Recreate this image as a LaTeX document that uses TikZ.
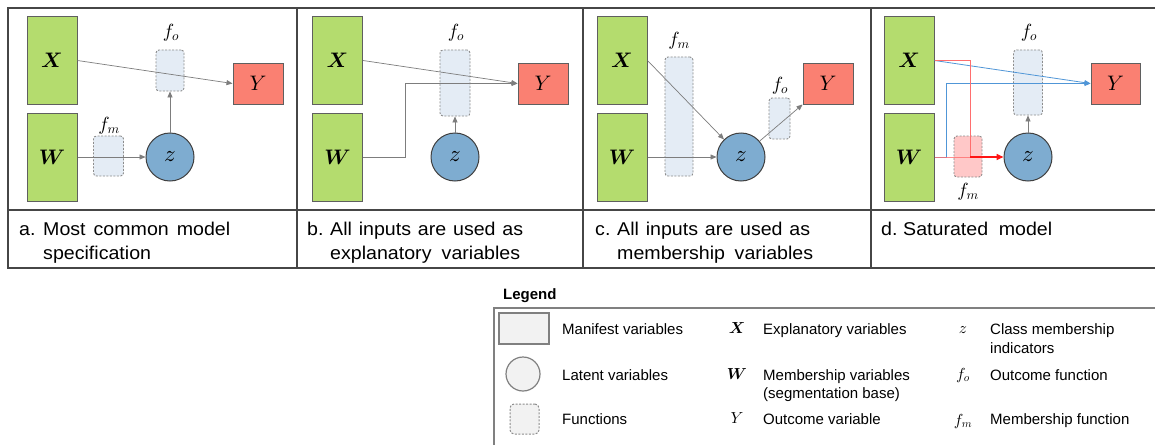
\documentclass[tikz,border=0pt]{standalone}
\usepackage{bm}
\usepackage{fontspec}
\setmainfont{Liberation Sans}
\newfontfamily\captfont[FakeStretch=1.06]{Liberation Sans}
\DeclareFontShape{OML}{cmm}{m}{it}{<->cmmi10}{}
\DeclareFontShape{OML}{cmm}{b}{it}{<->cmmib10}{}
\DeclareFontShape{OT1}{cmr}{m}{n}{<->cmr10}{}
\DeclareFontShape{OT1}{cmr}{bx}{n}{<->cmbx10}{}
\DeclareFontShape{OMS}{cmsy}{m}{n}{<->cmsy10}{}
\DeclareFontShape{OMS}{cmsy}{b}{n}{<->cmbsy10}{}
\DeclareFontShape{OMX}{cmex}{m}{n}{<->cmex10}{}
\usetikzlibrary{arrows.meta}
\definecolor{grn}{RGB}{180,220,110}
\definecolor{salmon}{RGB}{250,128,114}
\definecolor{zblue}{RGB}{126,172,208}
\definecolor{funcfill}{RGB}{228,236,245}
\definecolor{pinkfill}{RGB}{255,200,200}
\definecolor{bordergray}{RGB}{95,95,95}
\definecolor{circborder}{RGB}{64,64,64}
\definecolor{dashgray}{RGB}{140,140,140}
\definecolor{linegray}{RGB}{125,125,125}
\definecolor{tblgray}{RGB}{70,70,70}
\definecolor{leggray}{RGB}{128,128,128}
\definecolor{legfill}{RGB}{242,242,242}
\definecolor{redln}{RGB}{255,110,110}
\definecolor{redthk}{RGB}{255,20,20}
\definecolor{blueln}{RGB}{80,150,215}
\begin{document}
\begin{tikzpicture}[x=1pt,y=-1pt,
  man/.style={draw=bordergray, line width=1pt, fill=grn, minimum width=50pt, inner sep=0pt, font=\fontsize{21}{23}\selectfont},
  outv/.style={draw=bordergray, line width=1pt, fill=salmon, minimum width=50pt, minimum height=41pt, inner sep=0pt, font=\fontsize{21}{23}\selectfont},
  lat/.style={circle, draw=circborder, line width=1pt, fill=zblue, minimum size=48pt, inner sep=0pt, font=\fontsize{23}{24}\selectfont},
  func/.style={draw=dashgray, dash pattern=on 2pt off 1.5pt, rounded corners=3pt, fill=funcfill, line width=0.9pt, inner sep=0pt},
  arr/.style={draw=linegray, line width=0.7pt, -{Triangle[length=6pt,width=5pt]}},
  flab/.style={inner sep=0pt, font=\fontsize{19}{20}\selectfont},
  capt/.style={anchor=base west, inner sep=0pt, font=\captfont\fontsize{18.5}{22}\selectfont},
  leg/.style={anchor=base west, inner sep=0pt, font=\fontsize{15}{18}\selectfont},
  lmath/.style={inner sep=0pt, font=\fontsize{16}{18}\selectfont},
  tbl/.style={draw=tblgray, line width=1.2pt}
]
\useasboundingbox (0,0) rectangle (1155,444);
\fill[white] (0,0) rectangle (1155,444);

% table
\draw[tbl] (1157,8) -- (8,8) -- (8,268) -- (1157,268);
\draw[tbl] (8,210) -- (1157,210);
\draw[tbl] (297,8) -- (297,268);
\draw[tbl] (583,8) -- (583,268);
\draw[tbl] (871,8) -- (871,268);

% ---------- panel a ----------
\node[man, minimum height=87pt] (Xa) at (52,60.5) {$\bm{X}$};
\node[man, minimum height=88pt] (Wa) at (52,157) {$\bm{W}$};
\node[outv] (Ya) at (258,83.5) {$Y$};
\node[lat] (za) at (170,157) {$z$};
\node[func, minimum width=28pt, minimum height=41pt] (foa) at (170,70.5) {};
\node[func, minimum width=30pt, minimum height=40pt] (fma) at (108.5,156) {};
\node[flab] (foal) at (171,33) {$f_o$};
\node[flab] (fmal) at (109,126) {$f_m$};
\draw[arr] (Xa.east) -- (Ya.west);
\draw[arr] (Wa.east) -- (za.west);
\draw[arr] (za.north) -- (foa.south);

% ---------- panel b ----------
\node[man, minimum height=87pt] (Xb) at (337.5,60.5) {$\bm{X}$};
\node[man, minimum height=88pt] (Wb) at (337.5,157) {$\bm{W}$};
\node[outv] (Yb) at (543,83.5) {$Y$};
\node[lat] (zb) at (455,157) {$z$};
\node[func, minimum width=30pt, minimum height=66pt] (fob) at (455,83) {};
\node[flab] (fobl) at (456,33) {$f_o$};
\coordinate (bturn) at (405,157);
\draw[arr] (Xb.east) -- (Yb.west);
\draw[arr] (Wb.east) -- (bturn) |- (Yb.west);
\draw[arr] (zb.north) -- (fob.south);

% ---------- panel c ----------
\node[man, minimum height=87pt] (Xc) at (622,60.5) {$\bm{X}$};
\node[man, minimum height=88pt] (Wc) at (622,157) {$\bm{W}$};
\node[outv] (Yc) at (828,83.5) {$Y$};
\node[func, minimum width=28pt, minimum height=119pt] (fmc) at (679,116.5) {};
\node[func, minimum width=21pt, minimum height=41pt] (foc) at (779.5,118.5) {};
\node[lat] (zc) at (741,157) {$z$};
\node[flab] (fmcl) at (679,41) {$f_m$};
\node[flab] (focl) at (780,86) {$f_o$};
\draw[arr] (Xc.east) -- (zc);
\draw[arr] (Wc.east) -- (zc.west);
\draw[arr] (zc) -- (Yc.south west);

% ---------- panel d ----------
\node[man, minimum height=87pt] (Xd) at (909,60.5) {$\bm{X}$};
\node[man, minimum height=88pt] (Wd) at (909,157) {$\bm{W}$};
\node[outv, minimum width=49pt] (Yd) at (1115.5,83.5) {$Y$};
\node[func, minimum width=29pt, minimum height=65pt] (fod) at (1028,82.5) {};
\node[func, fill=pinkfill, minimum width=28pt, minimum height=41pt] (fmd) at (968,156.5) {};
\node[lat] (zd) at (1028,157) {$z$};
\node[flab] (fodl) at (1029,33) {$f_o$};
\node[flab] (fmdl) at (968,192) {$f_m$};
\coordinate (dturn) at (946,157);
\coordinate (djoin) at (970,157);
\draw[draw=blueln, line width=0.8pt, -{Triangle[length=6pt,width=5pt]}, blueln] (Xd.east) -- (Yd.west);
\draw[draw=blueln, line width=0.8pt, -{Triangle[length=6pt,width=5pt]}, blueln] (Wd.east) -- (dturn) |- (Yd.west);
\draw[draw=redln, line width=0.8pt] (Xd.east) -| (djoin);
\draw[draw=redln, line width=0.8pt, opacity=0.8] (Wd.east) -- (djoin);
\draw[draw=redthk, line width=1.5pt, -{Triangle[length=7pt,width=6pt]}, redthk] (djoin) -- (zd.west);
\draw[arr] (zd.north) -- (fod.south);

% ---------- captions ----------
\node[capt] (ca0) at (19,235) {a.};
\node[capt] (ca1) at (43,235) {\makebox[187pt][s]{Most common model}};
\node[capt] (ca2) at (43,259) {specification};
\node[capt] (cb0) at (307,235) {b.};
\node[capt] (cb1) at (330,235) {\makebox[193pt][s]{All inputs are used as}};
\node[capt] (cb2) at (330,259) {\makebox[190pt][s]{explanatory variables}};
\node[capt] (cc0) at (595,235) {c.};
\node[capt] (cc1) at (617,235) {\makebox[193pt][s]{All inputs are used as}};
\node[capt] (cc2) at (617,259) {\makebox[196pt][s]{membership variables}};
\node[capt] (cd0) at (881,235) {d.};
\node[capt] (cd1) at (903,235) {\makebox[149pt][s]{Saturated model}};

% ---------- legend ----------
\node[anchor=base west, inner sep=0pt, font=\bfseries\fontsize{15}{18}\selectfont] (legt) at (503,299) {Legend};
\draw[draw=leggray, line width=1.2pt] (1157,308) -- (494,308) -- (494,446);
\node[draw=leggray, line width=1.5pt, fill=legfill, minimum width=50pt, minimum height=31pt, inner sep=0pt] (lman) at (524,328.5) {};
\node[circle, draw=leggray, line width=1.2pt, fill=legfill, minimum size=34pt, inner sep=0pt] (llat) at (523,374) {};
\node[draw=dashgray, dash pattern=on 2pt off 1.5pt, rounded corners=4pt, fill=legfill, line width=1pt, minimum width=29pt, minimum height=30pt, inner sep=0pt] (lfun) at (524.5,419) {};
\node[leg] (tman) at (562,334) {Manifest variables};
\node[leg] (tlat) at (562,380) {Latent variables};
\node[leg] (tfun) at (562,424) {Functions};
\node[lmath] (lX) at (737,328) {$\bm{X}$};
\node[lmath] (lW) at (737,374) {$\bm{W}$};
\node[lmath] (lY) at (737,418) {$Y$};
\node[leg] (tX) at (763,334) {Explanatory variables};
\node[leg] (tW1) at (763,380) {Membership variables};
\node[leg] (tW2) at (763,398) {(segmentation base)};
\node[leg] (tY) at (763,424) {Outcome variable};
\node[lmath] (lz) at (963,330) {$z$};
\node[lmath] (lfo) at (963,375) {$f_o$};
\node[lmath] (lfm) at (963,421) {$f_m$};
\node[leg] (tz1) at (990,334) {Class membership};
\node[leg] (tz2) at (990,353) {indicators};
\node[leg] (tfo) at (990,380) {Outcome function};
\node[leg] (tfm) at (990,424) {Membership function};
\end{tikzpicture}
\end{document}
